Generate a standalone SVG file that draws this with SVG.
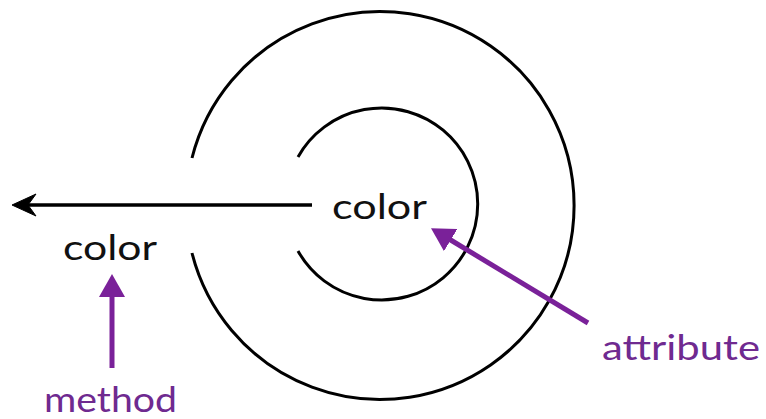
<svg xmlns="http://www.w3.org/2000/svg" width="766" height="419" viewBox="0 0 766 419">
<style>
.ring{fill:none;stroke:#000;stroke-width:3}
.lbl{font-family:Lato,"Open Sans","Liberation Sans",sans-serif;font-size:35px;fill:#111}
.plbl{font-family:Lato,"Open Sans","Liberation Sans",sans-serif;font-size:35px;fill:#6f2a90}
.parr{stroke:#7a2199;stroke-width:5;fill:none;marker-end:url(#ph)}
</style>
<defs>
<marker id="ph" markerUnits="userSpaceOnUse" markerWidth="24" markerHeight="26" refX="2" refY="13" orient="auto" viewBox="0 0 24 26">
<path d="M0,0 L23,13 L0,26 Z" fill="#7a2199"/>
</marker>
</defs>
<rect width="766" height="419" fill="#fff"/>
<g id="outer-ring"><path class="ring" d="M192,158 A194,194 0 1 1 192,253"/></g>
<g id="inner-ring"><path class="ring" d="M298,157 A96,96 0 1 1 298,251"/></g>
<g id="inner-color"><text class="lbl" x="332" y="219" textLength="95" lengthAdjust="spacingAndGlyphs">color</text></g>
<g id="outer-color"><text class="lbl" x="63" y="260" textLength="94" lengthAdjust="spacingAndGlyphs">color</text></g>
<g id="method"><text class="plbl" x="44" y="412" textLength="133" lengthAdjust="spacingAndGlyphs">method</text></g>
<g id="attribute"><text class="plbl" x="602" y="360" textLength="158" lengthAdjust="spacingAndGlyphs">attribute</text></g>
<g id="connectors">
<line x1="312" y1="205" x2="24" y2="205" stroke="#000" stroke-width="3.5"/>
<path d="M12,205 L36,194 L28,205 L36,216 Z" fill="#000" stroke="#000" stroke-width="1" stroke-linejoin="round"/>
<line class="parr" x1="112" y1="368" x2="112" y2="295"/>
<line class="parr" x1="588" y1="323" x2="449" y2="239"/>
</g>
</svg>
